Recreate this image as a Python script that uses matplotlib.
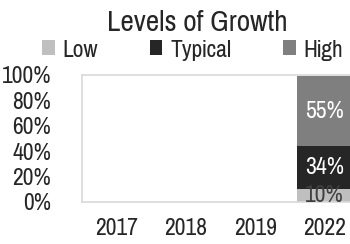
import matplotlib
matplotlib.use("Agg")
import matplotlib.pyplot as plt
import numpy as np

# dados do gráfico
anos = ["2017", "2018", "2019", "2022"]
baixo = [0, 0, 0, 10]
tipico = [0, 0, 0, 34]
alto = [0, 0, 0, 55]

plt.rcParams["font.family"] = ["Pragati Narrow", "DejaVu Sans"]

fig = plt.figure(figsize=(3.5, 2.44), dpi=100)
ax = fig.add_axes([0.234, 0.173, 0.792, 0.52])

x = np.arange(len(anos))
largura = 0.8
b1 = ax.bar(x, baixo, largura, color="#bfbfbf", label="Low")
b2 = ax.bar(x, tipico, largura, bottom=baixo, color="#262626", label="Typical")
base_alto = np.array(baixo) + np.array(tipico)
b3 = ax.bar(x, alto, largura, bottom=base_alto, color="#7f7f7f", label="High")

for barras, cor in [(b1, "#404040"), (b2, "white"), (b3, "white")]:
    for r in barras:
        h = r.get_height()
        if h > 0:
            ax.text(r.get_x() + r.get_width() / 2, r.get_y() + h / 2, f"{h:.0f}%",
                    ha="center", va="center", color=cor, fontsize=18.5)

ax.set_xlim(-0.5, len(anos) - 0.5)
ax.set_ylim(0, 100)
ax.set_yticks([0, 20, 40, 60, 80, 100])
ax.set_yticklabels([f"{v}%" for v in [0, 20, 40, 60, 80, 100]])
ax.set_xticks(x)
ax.set_xticklabels(anos)
ax.tick_params(axis="both", length=0, labelsize=18.5, colors="#262626")
ax.tick_params(axis="x", pad=12)
ax.tick_params(axis="y", pad=22)
for s in ax.spines.values():
    s.set_color("#d9d9d9")
    s.set_linewidth(1.2)

fig.text(0.565, 0.905, "Levels of Growth", ha="center", va="center", fontsize=23, color="#262626")
fig.legend(handles=[b1, b2, b3], loc="center", bbox_to_anchor=(0.55, 0.795), ncol=3,
           frameon=False, fontsize=18.5, handlelength=0.5, handleheight=0.5,
           handletextpad=0.3, columnspacing=2.0, borderpad=0, labelcolor="#262626")

plt.savefig("out.png", dpi=100)
